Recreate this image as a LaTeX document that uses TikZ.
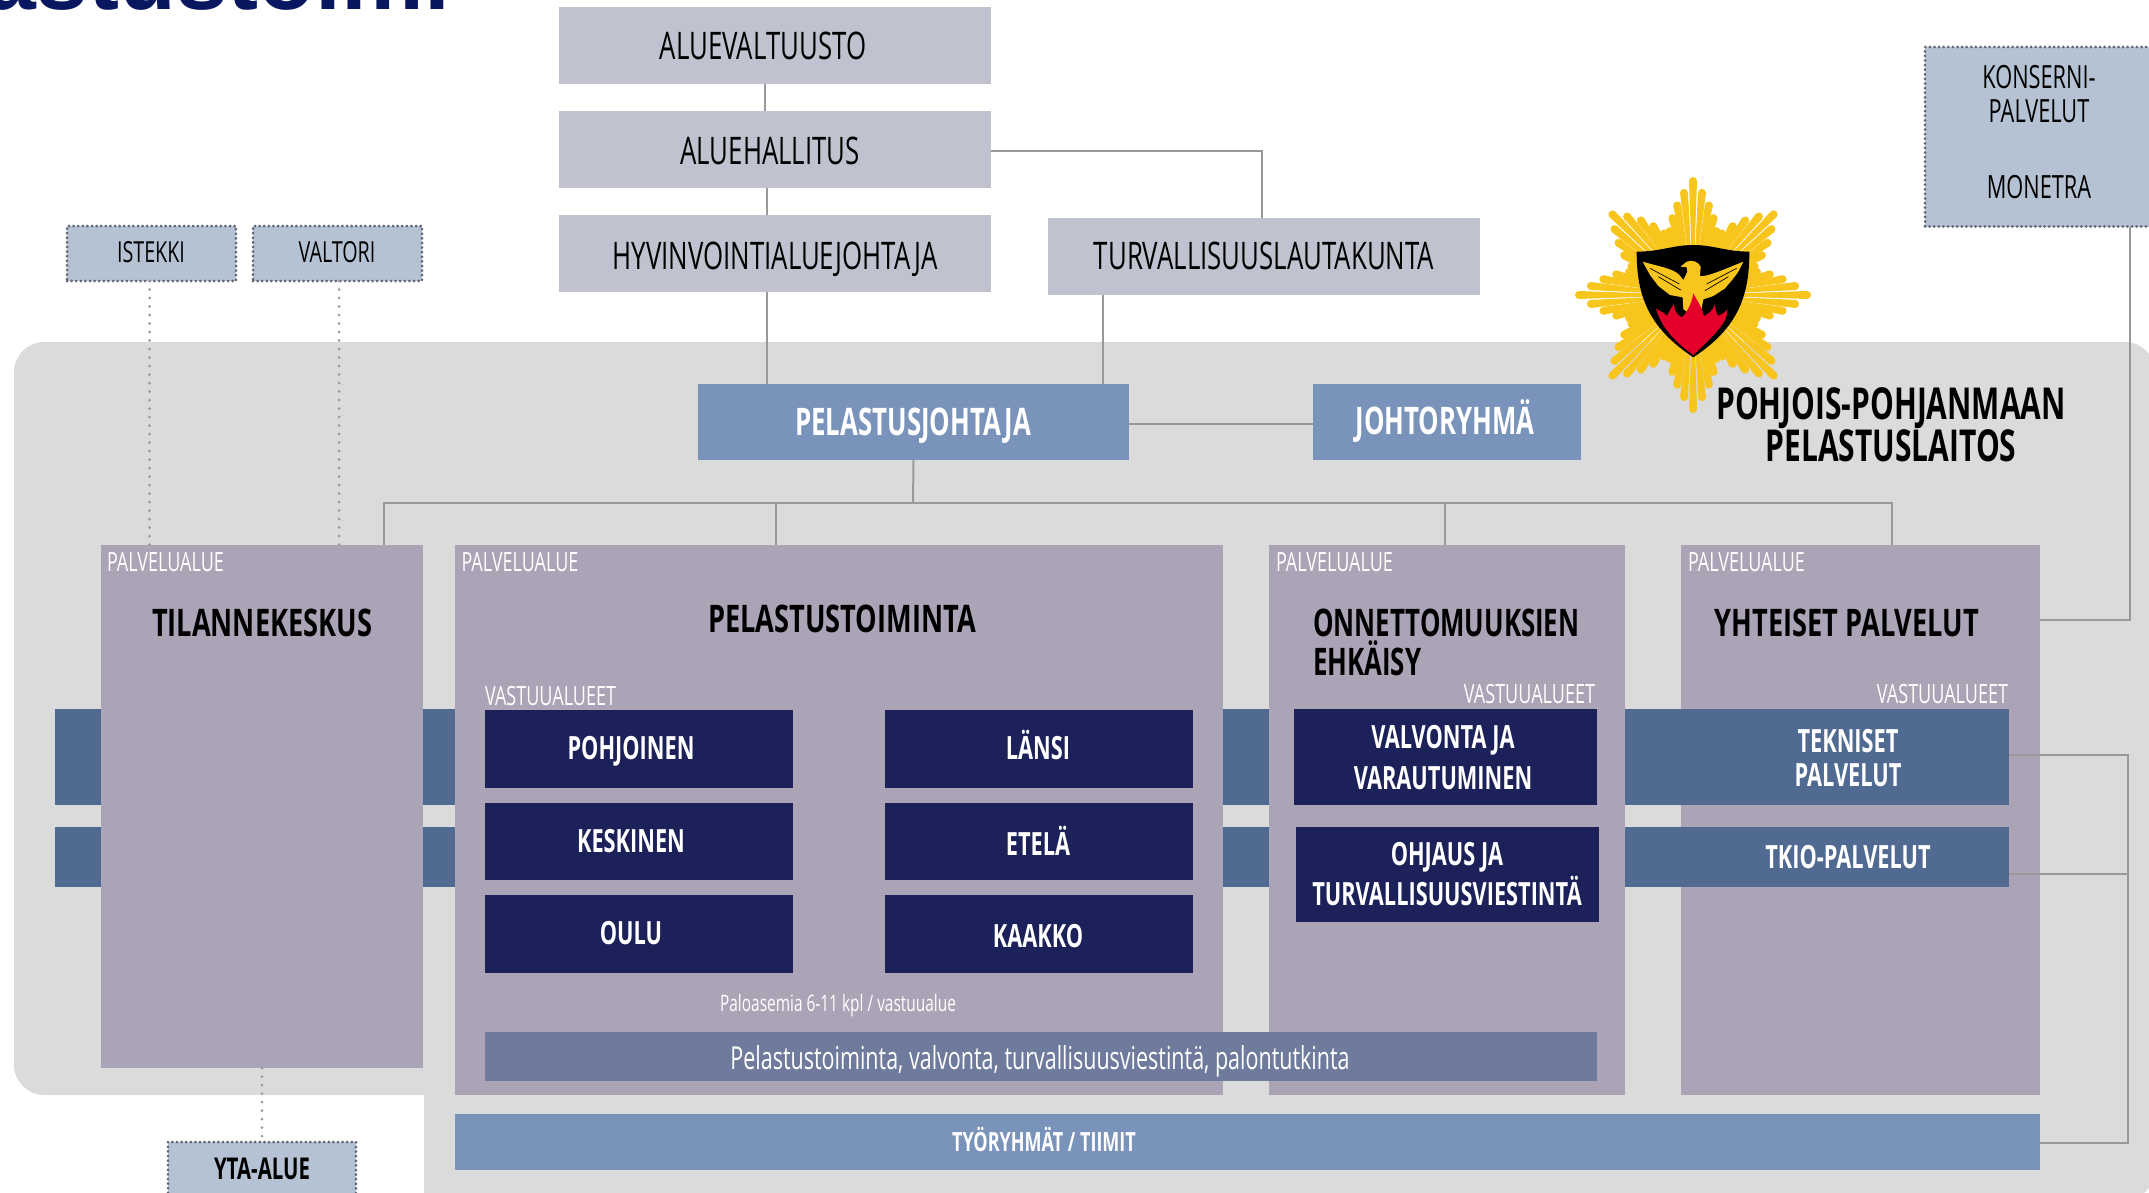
\documentclass[tikz,border=0pt]{standalone}
\usepackage{fontspec}
\setmainfont[FakeStretch=0.68]{Open Sans}
\newfontfamily\widebold[FakeStretch=0.715]{Open Sans}
\newfontfamily\titlefont{Liberation Sans}
\newcommand{\fsz}[2][1.2]{\fontsize{#2}{#1\dimexpr #2pt\relax}\selectfont}
\definecolor{panelc}{HTML}{DBDBDB}
\definecolor{lightc}{HTML}{C0C3CF}
\definecolor{bluec}{HTML}{7A93BA}
\definecolor{purplec}{HTML}{ABA3B6}
\definecolor{navyc}{HTML}{1C2259}
\definecolor{bandc}{HTML}{506A91}
\definecolor{stripc}{HTML}{6E7B9C}
\definecolor{ourc}{HTML}{B5C2D3}
\definecolor{linec}{HTML}{999999}
\definecolor{dotc}{HTML}{5F6470}
\definecolor{goldc}{HTML}{F8C51C}
\definecolor{redc}{HTML}{E4002B}
\definecolor{titlec}{HTML}{08175F}
\tikzset{
  x=1pt,y=-1pt,
  boxbase/.style={inner sep=0pt,outer sep=0pt,anchor=center},
  lightbox/.style={boxbase,fill=lightc},
  bluebox/.style={boxbase,fill=bluec},
  purplebox/.style={boxbase,fill=purplec},
  navybox/.style={boxbase,fill=navyc},
  bandbox/.style={boxbase,fill=bandc},
  stripbox/.style={boxbase,fill=stripc},
  extbox/.style={boxbase,fill=ourc,draw=dotc,line width=3pt,line cap=round,dash pattern=on 0pt off 4.6pt},
  conn/.style={draw=linec,line width=2pt},
  dotconn/.style={draw=linec,line width=3pt,line cap=round,dash pattern=on 0pt off 8.5pt},
  capnode/.style={inner sep=0pt,outer sep=0pt,text depth=0pt,anchor=center},
  blk/.style={capnode,text=black},
  wht/.style={capnode,text=white},
  multi/.style={inner sep=0pt,outer sep=0pt,align=center,anchor=center},
  ray/.style={fill=goldc},
  rg/.style={font=\fsz{#1},text height=0.714*#1 pt},
  bd/.style={font=\bfseries\fsz{#1},text height=0.714*#1 pt},
  wb/.style={font=\widebold\bfseries\fsz{#1},text height=0.714*#1 pt},
}
\begin{document}
\begin{tikzpicture}
\clip (0,0) rectangle (2149,1193);
% title fragment
\node[inner sep=0pt,outer sep=0pt,anchor=base east,text=titlec,font=\titlefont\bfseries\fsz{93}] (title) at (450,10) {astustoimi};
% panel
\fill[panelc] (44,342) -- (2125,342) .. controls (2141.5,342) and (2155,355.5) .. (2155,372) -- (2155,1170) .. controls (2155,1186.5) and (2141.5,1200) .. (2125,1200) -- (424,1200) -- (424,1095) -- (44,1095) .. controls (27.5,1095) and (14,1081.5) .. (14,1065) -- (14,372) .. controls (14,355.5) and (27.5,342) .. (44,342) -- cycle;
% logo
\begin{scope}[shift={(1693,295)}]
\foreach \a in {0,5,...,355}{
  \pgfmathsetmacro{\m}{mod(\a,45)}
  \pgfmathsetmacro{\d}{min(\m,45-\m)}
  \pgfmathsetmacro{\L}{114-2.3*\d}
  \pgfmathsetmacro{\w}{atan(4/\L)}
  \fill[ray] (0,0) -- (\a+\w:\L) -- (\a-\w:\L) -- cycle;
  \fill[ray] (\a:\L) circle (4);
}
\end{scope}
\begin{scope}[shift={(1550,160)},scale=0.33333]
\fill[black] (260,275) .. controls (330,275) and (370,255) .. (430,255) .. controls (490,255) and (530,275) .. (598,275) .. controls (598,400) and (570,500) .. (430,592) .. controls (290,500) and (260,400) .. (260,275) -- cycle;
\fill[goldc] (392,320) -- (410,305) .. controls (425,298) and (445,305) .. (452,320) -- (450,348) .. controls (470,352) and (530,325) .. (580,305) -- (565,335) -- (548,358) -- (525,385) -- (490,408) -- (460,418) -- (455,445) -- (415,458) -- (400,448) -- (398,412) -- (360,405) -- (325,378) -- (300,345) -- (278,305) .. controls (320,318) and (370,325) .. (388,345) -- (400,360) -- (412,335) -- (410,322) -- cycle;
\draw[black,line width=0.7pt] (300,325) -- (388,372) (325,350) -- (392,390) (560,325) -- (470,372) (535,350) -- (465,392);
\fill[redc] (318,445) .. controls (330,455) and (345,458) .. (350,468) .. controls (358,455) and (362,445) .. (372,432) .. controls (372,450) and (378,462) .. (395,472) .. controls (405,465) and (425,435) .. (430,400) .. controls (440,420) and (455,440) .. (462,468) .. controls (475,462) and (490,450) .. (495,432) .. controls (495,450) and (500,462) .. (505,468) .. controls (515,462) and (525,458) .. (532,448) .. controls (532,480) and (520,500) .. (430,585) .. controls (360,535) and (330,490) .. (318,445) -- cycle;
\end{scope}
% yhteiset behind bands
\node[purplebox,minimum width=359pt,minimum height=550pt] (yht) at (1860.5,820) {};
% bands
\node[bandbox,minimum width=1954pt,minimum height=96pt] (band1) at (1032,756.5) {};
\node[bandbox,minimum width=1954pt,minimum height=60pt] (band2) at (1032,857) {};
% top boxes
\node[lightbox,minimum width=432pt,minimum height=77pt] (av) at (775,45.5) {};
\node[lightbox,minimum width=432pt,minimum height=77pt] (ah) at (775,149.5) {};
\node[lightbox,minimum width=432pt,minimum height=77pt] (hv) at (775,253.5) {};
\node[lightbox,minimum width=432pt,minimum height=77pt] (tu) at (1264,256.5) {};
\node[bluebox,minimum width=431pt,minimum height=76pt] (pj) at (913.5,422) {};
\node[bluebox,minimum width=268pt,minimum height=76pt] (jr) at (1447,422) {};
% external boxes
\node[extbox,minimum width=169pt,minimum height=55pt] (is) at (151.5,253.5) {};
\node[extbox,minimum width=169pt,minimum height=55pt] (va) at (337.5,253.5) {};
\node[extbox,minimum width=260pt,minimum height=179.5pt] (ko) at (2055,136.75) {};
\node[extbox,minimum width=188pt,minimum height=70pt] (yta) at (262,1177) {};
% purple areas
\node[purplebox,minimum width=322pt,minimum height=523pt] (ti) at (262,806.5) {};
\node[purplebox,minimum width=768.5pt,minimum height=550pt] (pe) at (838.75,820) {};
\node[purplebox,minimum width=356pt,minimum height=550pt] (on) at (1447,820) {};
% navy boxes
\node[navybox,minimum width=308pt,minimum height=78pt] (po) at (639,749) {};
\node[navybox,minimum width=308pt,minimum height=77pt] (ke) at (639,841.5) {};
\node[navybox,minimum width=308pt,minimum height=77.5pt] (ou) at (639,933.75) {};
\node[navybox,minimum width=308pt,minimum height=78pt] (la) at (1039,749) {};
\node[navybox,minimum width=308pt,minimum height=77pt] (et) at (1039,841.5) {};
\node[navybox,minimum width=308pt,minimum height=77.5pt] (ka) at (1039,933.75) {};
\node[navybox,minimum width=303pt,minimum height=96pt] (vv) at (1445.5,756.5) {};
\node[navybox,minimum width=303pt,minimum height=95pt] (oh) at (1447.5,874.5) {};
% strips
\node[stripbox,minimum width=1112pt,minimum height=49pt] (st) at (1041,1056.5) {};
\node[bluebox,minimum width=1585.5pt,minimum height=56pt] (ty) at (1247.25,1142) {};
% connectors
\draw[conn] (765,0 |- av.south) -- (765,0 |- ah.north);
\draw[conn] (767,0 |- ah.south) -- (767,0 |- hv.north);
\draw[conn] (767,0 |- hv.south) -- (767,0 |- pj.north);
\draw[conn] (ah.east |- 0,151) -- (1262,151) -- (1262,0 |- tu.north);
\draw[conn] (1102.5,0 |- tu.south) -- (1102.5,0 |- pj.north);
\draw[conn] (pj.east |- 0,424) -- (jr.west |- 0,424);
\draw[conn] (pj.south) -- (913,503);
\draw[conn] (384,0 |- ti.north) -- (384,503) -- (1892,503) -- (1892,0 |- yht.north);
\draw[conn] (776,503) -- (776,0 |- pe.north);
\draw[conn] (1445,503) -- (1445,0 |- on.north);
\draw[dotconn] (149.5,0 |- is.south) -- (149.5,0 |- ti.north);
\draw[dotconn] (339,0 |- va.south) -- (339,0 |- ti.north);
\draw[dotconn] (ti.south) -- (yta.north);
\draw[conn] (2130,0 |- ko.south) -- (2130,620) -- (yht.east |- 0,620);
\draw[conn] (band1.east |- 0,755) -- (2128,755) -- (2128,1143) -- (ty.east |- 0,1143);
\draw[conn] (band2.east |- 0,874) -- (2128,874);
% labels
\node[blk,rg=38] (avt) at (763,46) {ALUEVALTUUSTO};
\node[blk,rg=38] (aht) at (770,151) {ALUEHALLITUS};
\node[blk,rg=38] (hvt) at (775,256) {HYVINVOINTIALUEJOHTAJA};
\node[blk,rg=38] (tut) at (1264,256) {TURVALLISUUSLAUTAKUNTA};
\node[wht,bd=38] (pjt) at (913,422) {PELASTUSJOHTAJA};
\node[wht,bd=38] (jrt) at (1445,421) {JOHTORYHMÄ};
\node[blk,rg=29] (ist) at (151,252) {ISTEKKI};
\node[blk,rg=29] (vat) at (337,252) {VALTORI};
\node[multi,font={\fsz[1.08]{32}},text=black] (kot) at (2039,94) {KONSERNI-\\PALVELUT};
\node[blk,rg=32] (mot) at (2039,187.5) {MONETRA};
\node[blk,bd=30] (ytat) at (262,1169) {YTA-ALUE};
\node[multi,font={\bfseries\fsz[0.96]{44}},text=black] (ppt) at (1891,425) {POHJOIS-POHJANMAAN\\PELASTUSLAITOS};
\node[wht,anchor=west,rg=26.5] (pa1) at (107,562.5) {PALVELUALUE};
\node[wht,anchor=west,rg=26.5] (pa2) at (461.5,562.5) {PALVELUALUE};
\node[wht,anchor=west,rg=26.5] (pa3) at (1276,562.5) {PALVELUALUE};
\node[wht,anchor=west,rg=26.5] (pa4) at (1688,562.5) {PALVELUALUE};
\node[blk,wb=38] (tit) at (262,623) {TILANNEKESKUS};
\node[blk,wb=38] (pet) at (842,619) {PELASTUSTOIMINTA};
\node[multi,font={\bfseries\fsz[1.03]{38}},text=black,align=left,anchor=west] (ont) at (1313,642.5) {ONNETTOMUUKSIEN\\EHKÄISY};
\node[blk,wb=38] (ytt) at (1847,623) {YHTEISET PALVELUT};
\node[wht,anchor=west,rg=26.5] (va1) at (485,696) {VASTUUALUEET};
\node[wht,anchor=east,rg=26.5] (va2) at (1595,694.5) {VASTUUALUEET};
\node[wht,anchor=east,rg=26.5] (va3) at (2008,694.5) {VASTUUALUEET};
\node[wht,bd=32] (pot) at (631,748) {POHJOINEN};
\node[wht,bd=32] (ket) at (631,841) {KESKINEN};
\node[wht,bd=32] (out) at (631,933) {OULU};
\node[wht,bd=32] (lat) at (1038,748) {LÄNSI};
\node[wht,bd=32] (ett) at (1038,844) {ETELÄ};
\node[wht,bd=32] (kat) at (1038,936) {KAAKKO};
\node[multi,font={\bfseries\fsz[1.28]{32}},text=white] (vvt) at (1443,757.5) {VALVONTA JA\\VARAUTUMINEN};
\node[multi,font={\bfseries\fsz[1.25]{32}},text=white] (oht) at (1447,874) {OHJAUS JA\\TURVALLISUUSVIESTINTÄ};
\node[multi,font={\bfseries\fsz[1.06]{32}},text=white] (tkt) at (1848,758) {TEKNISET\\PALVELUT};
\node[wht,bd=32] (tkio) at (1848,857) {TKIO-PALVELUT};
\node[wht,rg=22.7] (pal) at (838,1003) {Paloasemia 6-11 kpl / vastuualue};
\node[wht,rg=31.6] (stt) at (1040,1058) {Pelastustoiminta, valvonta, turvallisuusviestintä, palontutkinta};
\node[wht,bd=26.5] (tyt) at (1044,1142) {TYÖRYHMÄT / TIIMIT};
\end{tikzpicture}
\end{document}
